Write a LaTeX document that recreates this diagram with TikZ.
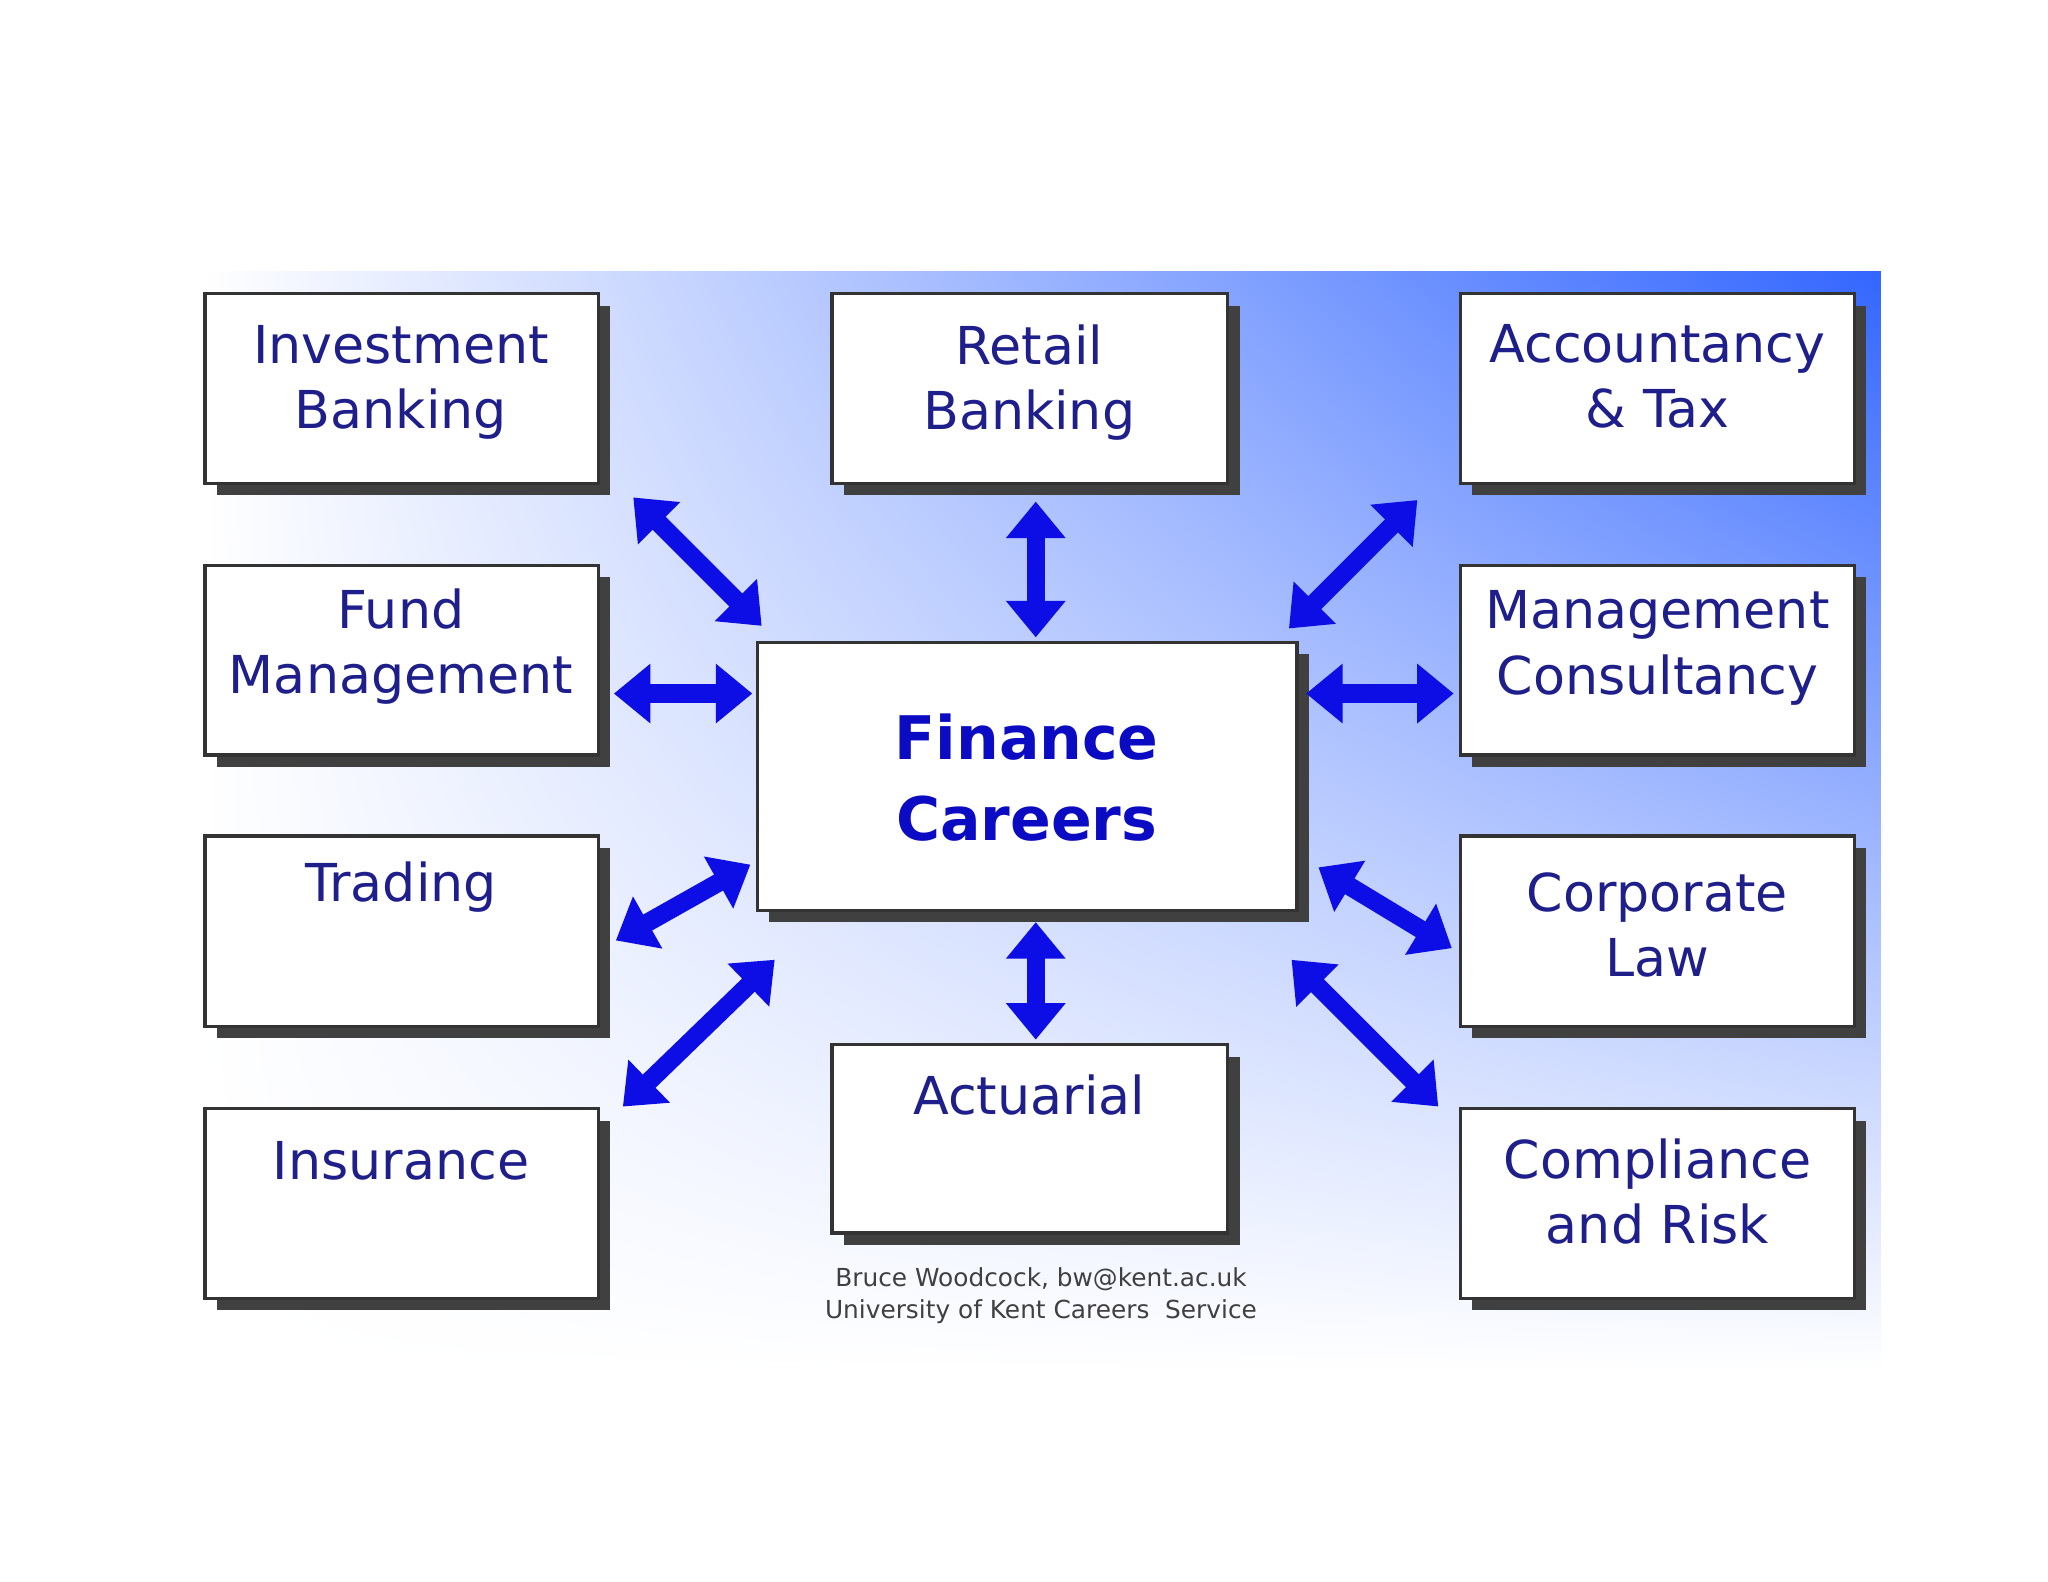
\documentclass[tikz,border=0pt]{standalone}
\usepackage{fontspec}
\setmainfont{DejaVu Sans}
\usetikzlibrary{arrows.meta,shadings}
\definecolor{txt}{rgb}{0.12,0.12,0.55}
\definecolor{arr}{rgb}{0.05,0.05,0.9}
\definecolor{bgblue}{rgb}{0.2,0.4,1}
\tikzset{
 card/.style={draw=black!80,line width=1.2pt,fill=white},
 shadowbox/.style={fill=black!75},
 lbl/.style={text=txt,font=\fontsize{20}{25}\selectfont,align=center},
 link/.style={arr,line width=7pt,{Triangle[length=14pt,width=22pt]}-{Triangle[length=14pt,width=22pt]},shorten <=2pt,shorten >=2pt}
}
\begin{document}
\begin{tikzpicture}[x=0.5pt,y=-0.5pt]
\useasboundingbox (0,0) rectangle (1568,1211);
\fill[white] (0,0) rectangle (1568,1211);
\shade[upper left=white,upper right=bgblue,lower left=white,lower right=white] (155,208) rectangle (1440,1050);
\foreach \n/\xa/\ya/\xb/\yb in {ib/157/225/458/370, fm/157/433/458/578, tr/157/640/458/786, in/157/849/458/994,
  rb/637/225/940/370, ac/637/800/940/944,
  at/1118/225/1420/370, mc/1118/433/1420/578, cl/1118/640/1420/786, cr/1118/849/1420/994,
  fc/580/492/993/697}{
  \fill[shadowbox] (\xa+9,\ya+9) rectangle (\xb+9,\yb+9);
  \draw[card] (\xa,\ya) rectangle (\xb,\yb);
  \coordinate (\n) at ({(\xa+\xb)/2},{(\ya+\yb)/2});
}
\node[lbl] (tib) at (307,293) {Investment\\Banking};
\node[lbl] (tfm) at (307,495) {Fund\\Management};
\node[lbl] (ttr) at (307,679) {Trading};
\node[lbl] (tin) at (307,889) {Insurance};
\node[lbl] (trb) at (788,293) {Retail\\Banking};
\node[lbl] (tac) at (788,838) {Actuarial};
\node[lbl] (tat) at (1269,288) {Accountancy\\\&\ Tax};
\node[lbl] (tmc) at (1269,496) {Management\\Consultancy};
\node[lbl] (tcl) at (1269,708) {Corporate\\Law};
\node[lbl] (tcr) at (1269,912) {Compliance\\and Risk};
\node[text=arr!85!black,font=\bfseries\fontsize{23}{31}\selectfont,align=center] (tfc) at (786,595) {Finance\\Careers};
\node[text=black!75,font=\fontsize{9.5}{12}\selectfont,align=center] (foot) at (797,992) {Bruce Woodcock, bw@kent.ac.uk\\University of Kent Careers\ \ Service};
\foreach \n/\x/\y in {a1/482/378,b1/586/482, a2/793/380,b2/793/492, a3/1088/380,b3/984/484,
 a4/466/531,b4/580/531, a5/996/531,b5/1117/531, a6/468/722,b6/578/660, a7/1006/662,b7/1115/728,
 a8/474/850,b8/596/732, a9/793/702,b9/793/800, a10/986/732,b10/1104/850}{\coordinate (\n) at (\x,\y);}
\foreach \i in {1,...,10}{\draw[link] (a\i) -- (b\i);}
\end{tikzpicture}
\end{document}
